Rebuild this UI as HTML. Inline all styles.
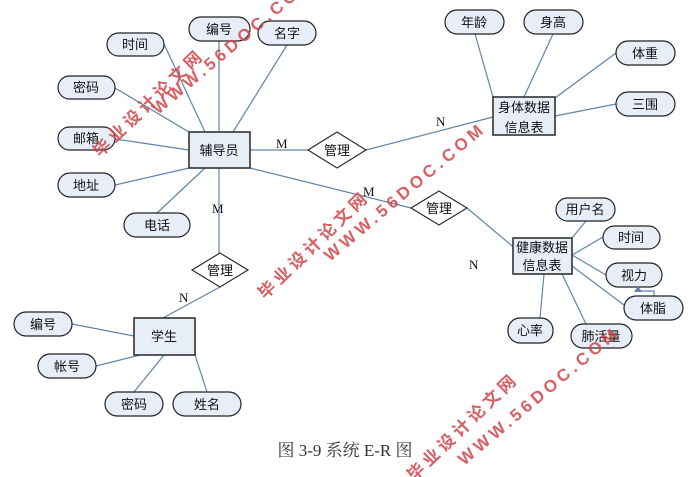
<!DOCTYPE html>
<html><head><meta charset="utf-8"><style>
body{margin:0;background:#fff;}
svg{display:block;}
text{font-family:"Liberation Sans","Noto Sans CJK SC",sans-serif;font-size:13px;fill:#111;}
.l{stroke:#5f84ad;stroke-width:1.2;fill:none;}
.e{fill:#e8eef8;stroke:#222;stroke-width:1.2;}
.r{fill:#e8eef8;stroke:#333;stroke-width:1.6;}
.d{fill:#fff;stroke:#222;stroke-width:1.1;}
.s text{font-family:"Liberation Serif",serif;font-size:13px;}
.w text{fill:#d0454a;font-weight:bold;font-size:17px;letter-spacing:4px;opacity:.85}
</style></head><body>
<svg width="693" height="477" viewBox="0 0 693 477" xmlns="http://www.w3.org/2000/svg">
<g class="l">
<line x1="219" y1="41" x2="219" y2="132"/>
<line x1="287" y1="45" x2="233" y2="132"/>
<line x1="164" y1="44" x2="205" y2="132"/>
<line x1="115" y1="88" x2="189" y2="132"/>
<line x1="115" y1="139" x2="189" y2="150"/>
<line x1="115" y1="185" x2="189" y2="168"/>
<line x1="157" y1="213" x2="205" y2="168"/>
<line x1="250" y1="150" x2="308" y2="150"/>
<line x1="366" y1="150" x2="493" y2="117"/>
<line x1="250" y1="168" x2="411" y2="208"/>
<line x1="467" y1="208" x2="517" y2="250"/>
<line x1="219" y1="168" x2="219" y2="253"/>
<line x1="220" y1="287" x2="163" y2="318"/>
<line x1="475" y1="34" x2="493" y2="97"/>
<line x1="553" y1="34" x2="524" y2="97"/>
<line x1="616" y1="53" x2="555" y2="98"/>
<line x1="616" y1="104" x2="555" y2="116"/>
<line x1="572" y1="238" x2="586" y2="221"/>
<line x1="603" y1="237" x2="572" y2="255"/>
<line x1="572" y1="255" x2="606" y2="275"/>
<line x1="572" y1="266" x2="624" y2="305"/>
<line x1="544" y1="274" x2="540" y2="318"/>
<line x1="562" y1="274" x2="586" y2="324"/>
<line x1="72" y1="324" x2="134" y2="336"/>
<line x1="96" y1="366" x2="140" y2="355"/>
<line x1="134" y1="392" x2="164" y2="355"/>
<line x1="207" y1="392" x2="195" y2="355"/>
<polyline points="654,296 654,291 638,291 638,287"/>
</g>
<g class="e">
<rect x="189" y="17" width="61" height="24" rx="12"/>
<rect x="258" y="21" width="58" height="24" rx="12"/>
<rect x="107" y="33" width="57" height="23" rx="11.5"/>
<rect x="58" y="76" width="57" height="23" rx="11.5"/>
<rect x="58" y="127" width="57" height="23" rx="11.5"/>
<rect x="58" y="173" width="57" height="24" rx="12"/>
<rect x="124" y="213" width="66" height="24" rx="12"/>
<rect x="445" y="10" width="59" height="24" rx="12"/>
<rect x="524" y="10" width="59" height="24" rx="12"/>
<rect x="616" y="41" width="59" height="24" rx="12"/>
<rect x="616" y="92" width="59" height="24" rx="12"/>
<rect x="556" y="198" width="59" height="23" rx="11.5"/>
<rect x="603" y="226" width="57" height="23" rx="11.5"/>
<rect x="606" y="263" width="56" height="24" rx="12"/>
<rect x="624" y="296" width="59" height="24" rx="12"/>
<rect x="508" y="318" width="45" height="25" rx="12"/>
<rect x="571" y="324" width="61" height="24" rx="12"/>
<rect x="14" y="312" width="58" height="24" rx="12"/>
<rect x="38" y="354" width="58" height="24" rx="12"/>
<rect x="105" y="392" width="58" height="24" rx="12"/>
<rect x="173" y="392" width="68" height="24" rx="12"/>
</g>
<polygon points="638,286 642,292 634,292" fill="#5f84ad"/>
<g class="r">
<rect x="189" y="132" width="61" height="36"/>
<rect x="493" y="97" width="62" height="38"/>
<rect x="513" y="238" width="59" height="36"/>
<rect x="134" y="318" width="61" height="37"/>
</g>
<g class="d">
<polygon points="308,150 337,132 366,150 337,168"/>
<polygon points="411,208 439,191 467,208 439,225"/>
<polygon points="192,270 220,253 248,270 220,287"/>
</g>
<g text-anchor="middle">
<text x="219" y="34">编号</text><text x="287" y="38">名字</text>
<text x="135" y="49">时间</text><text x="86" y="92">密码</text>
<text x="86" y="143">邮箱</text><text x="86" y="190">地址</text>
<text x="157" y="230">电话</text>
<text x="219" y="155">辅导员</text>
<text x="337" y="155">管理</text><text x="439" y="213">管理</text><text x="220" y="275">管理</text>
<text x="474" y="27">年龄</text><text x="553" y="27">身高</text>
<text x="645" y="58">体重</text><text x="645" y="109">三围</text>
<text x="524" y="112">身体数据</text><text x="524" y="132">信息表</text>
<text x="542" y="252">健康数据</text><text x="542" y="270">信息表</text>
<text x="585" y="214">用户名</text><text x="631" y="242">时间</text>
<text x="634" y="280">视力</text><text x="653" y="313">体脂</text>
<text x="530" y="335">心率</text><text x="601" y="341">肺活量</text>
<text x="164" y="341">学生</text>
<text x="43" y="329">编号</text><text x="67" y="371">帐号</text>
<text x="134" y="409">密码</text><text x="207" y="409">姓名</text>
</g>
<g class="s">
<text x="276" y="148">M</text><text x="436" y="126">N</text>
<text x="363" y="196">M</text><text x="212" y="213">M</text>
<text x="179" y="302">N</text><text x="469" y="269">N</text>
</g>
<text x="345" y="456" text-anchor="middle" style="font-family:'Liberation Serif','Noto Serif CJK SC',serif;font-size:17px;fill:#333">图 3-9 系统 E-R 图</text>
<g class="w">
<text transform="translate(100,158) rotate(-44)">毕业设计论文网</text>
<text transform="translate(158,115) rotate(-40)">WWW.56DOC.COM</text>
<text transform="translate(265,300) rotate(-44)">毕业设计论文网</text>
<text transform="translate(330,262) rotate(-40)">WWW.56DOC.COM</text>
<text transform="translate(414,482) rotate(-44)">毕业设计论文网</text>
<text transform="translate(464,466) rotate(-40)">WWW.56DOC.COM</text>
</g>
</svg>
</body></html>
